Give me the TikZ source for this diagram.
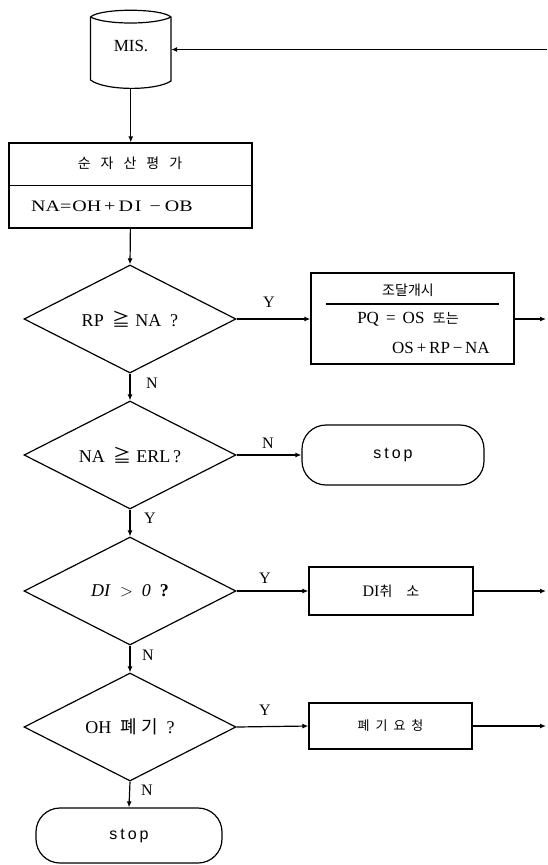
\documentclass[tikz,border=0pt]{standalone}
\usepackage{fontspec}
\setmainfont{Liberation Serif}
\newfontfamily\kr{Noto Sans CJK KR}
\newfontfamily\wide[FakeStretch=1.25]{Liberation Serif}
\newfontfamily\stopfont{Liberation Sans}
\usetikzlibrary{shapes.geometric,arrows.meta}

\tikzset{
  ln/.style={line width=1.2pt},
  arr/.style={ln,-{Latex[length=6pt,width=5pt]}},
  box/.style={draw,ln,rectangle,inner sep=0pt},
  dia/.style={draw,ln,diamond,shape aspect=2,inner sep=0pt,
              minimum width=212pt,minimum height=108pt,
              font=\fontsize{18}{20}\selectfont},
  term/.style={draw,ln,rectangle,rounded corners=24pt,inner sep=0pt,
               font=\stopfont\fontsize{16}{18}\selectfont},
  lbl/.style={inner sep=0pt,font=\fontsize{16}{18}\selectfont},
  txt/.style={inner sep=0pt,font=\fontsize{15}{17}\selectfont},
  every node/.style={font=\fontsize{15}{17}\selectfont}
}
\newcommand{\geqk}{{\kr ≧}}
\newcommand{\spc}{\hspace{10pt}}
\newcommand{\stoptext}{s\hspace{3pt}t\hspace{3pt}o\hspace{3pt}p}

\begin{document}
\begin{tikzpicture}[x=1pt,y=-1pt]
\useasboundingbox (0,0) rectangle (547,865);

% storage drum holding the MIS data
\node[inner sep=0pt,minimum width=80.5pt,minimum height=79pt] (mis) at (130.75,49.5) {};
\draw[ln] (90.5,17) .. controls (100,8) and (161,8) .. (171,17)
          -- (171,81) .. controls (156,91) and (105,91) .. (90.5,80) -- cycle;
\draw[ln] (90.5,17) .. controls (105,25) and (156,25) .. (171,17);
\node[txt,font=\fontsize{17}{19}\selectfont] (mist) at (131,46) {MIS.};

% net asset evaluation box
\node[box,minimum width=243pt,minimum height=85pt] (eval) at (130.4,185.5) {};
\draw[ln] (eval.west) -- (eval.east);
\node[txt] (evalt) at (130,163) {\kr\fontsize{14}{16}\selectfont 순\spc 자\spc 산\spc 평\spc 가};
\node[txt,anchor=west,font=\fontsize{16}{18}\selectfont] (evalf) at (31,206) {\wide NA=\hspace{1pt}OH\hspace{3pt}+\hspace{3pt}D\hspace{2pt}I\hspace{8pt}−\hspace{4pt}OB};

% decisions
\node[dia] (d1) at (130,319) {RP \ \geqk\ NA \ ?};
\node[dia] (d2) at (130,455) {NA \ \geqk\ ERL\,?};
\node[dia] (d3) at (130,591) {\textit{DI} \ $>$ \ \textit{0} \ \textbf{?}};
\node[dia] (d4) at (130,727) {OH \ {\kr 폐\hspace{4pt}기} \ ?};

% actions
\node[box,minimum width=203pt,minimum height=91pt] (proc) at (412.5,318.5) {};
\node[txt] (proct) at (408,290) {\kr\fontsize{14}{16}\selectfont 조달개시};
\draw[ln] (326,304) -- (499,304);
\node[txt] (procl1) at (408,319) {\fontsize{17}{19}\selectfont PQ \,=\, OS \ {\kr\fontsize{14}{16}\selectfont 또는}};
\node[txt] (procl2) at (441,348) {\fontsize{17}{19}\selectfont OS\,+\,RP\,−\,NA};

\node[term,minimum width=182pt,minimum height=60pt] (stop1) at (393,455) {\stoptext};
\node[box,minimum width=164pt,minimum height=48pt,font=\fontsize{16}{18}\selectfont] (cancel) at (391,591)
  {DI{\kr\fontsize{14}{16}\selectfont 취\hspace{14pt}소}};
\node[box,minimum width=163pt,minimum height=46pt] (disp) at (390.5,726)
  {\kr\fontsize{13}{15}\selectfont 폐\hspace{6pt}기\hspace{6pt}요\hspace{6pt}청};
\node[term,minimum width=186pt,minimum height=55pt] (stop2) at (129,835.5) {\stoptext};

% loose ends of the flow lines on the right margin
\coordinate (back) at (547,49.5);
\coordinate (out1) at (546,319);
\coordinate (out2) at (546,591);
\coordinate (out3) at (546,726);

% connectors
\draw[arr] (back) -- (mis.east);
\draw[arr] (mis.south) -- (mis.south |- eval.north);
\draw[arr] (eval.south) -- (d1.north);
\draw[arr] (d1.east) -- (d1.east -| proc.west);
\draw[arr] (proc.east |- out1) -- (out1);
\draw[arr] (d1.south) -- (d2.north);
\draw[arr] (d2.east) -- (stop1.west);
\draw[arr] (d2.south) -- (d3.north);
\draw[arr] (d3.east) -- (cancel.west);
\draw[arr] (cancel.east) -- (out2);
\draw[arr] (d3.south) -- (d4.north);
\draw[arr] (d4.east) -- (disp.west);
\draw[arr] (disp.east) -- (out3);
\draw[arr] (d4.south) -- (stop2.north);

% branch labels
\node[lbl] (y1) at (269,302) {Y};
\node[lbl] (n1) at (152,383) {N};
\node[lbl] (n2) at (268,443) {N};
\node[lbl] (y2) at (150,518) {Y};
\node[lbl] (y3) at (265,578) {Y};
\node[lbl] (n3) at (148,655) {N};
\node[lbl] (y4) at (265,710) {Y};
\node[lbl] (n4) at (147,790) {N};
\end{tikzpicture}
\end{document}
